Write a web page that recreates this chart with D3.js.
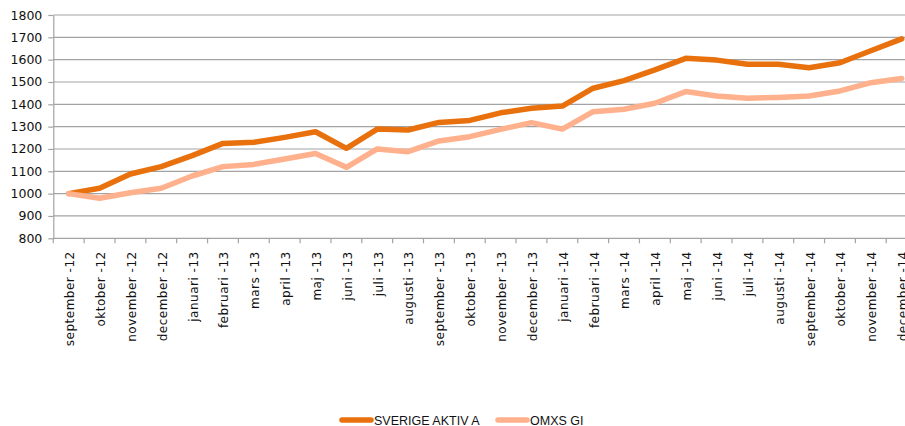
<!DOCTYPE html>
<html>
<head>
<meta charset="utf-8">
<script src="https://cdn.jsdelivr.net/npm/d3@7"></script>
<style>
  body { margin: 0; background: #fff; }
  svg { display: block; }
</style>
</head>
<body>
<div id="chart"></div>
<script>
// month labels as they appear under the axis
let months = ['september -12', 'oktober -12', 'november -12', 'december -12',
  'januari -13', 'februari -13', 'mars -13', 'april -13', 'maj -13', 'juni -13',
  'juli -13', 'augusti -13', 'september -13', 'oktober -13', 'november -13', 'december -13',
  'januari -14', 'februari -14', 'mars -14', 'april -14', 'maj -14', 'juni -14',
  'juli -14', 'augusti -14', 'september -14', 'oktober -14', 'november -14', 'december -14'];

let sverige = [1000, 1024, 1088, 1121, 1170, 1225, 1230, 1252, 1277, 1203, 1289, 1285, 1319, 1328,
  1362, 1382, 1392, 1472, 1506, 1554, 1606, 1598, 1579, 1579, 1564, 1586, 1640, 1693];
let omxs = [1000, 979, 1004, 1024, 1079, 1121, 1131, 1155, 1180, 1118, 1200, 1188, 1236, 1255,
  1288, 1318, 1289, 1367, 1378, 1405, 1457, 1437, 1427, 1431, 1437, 1460, 1497, 1516];

let yTicks = [800, 900, 1000, 1100, 1200, 1300, 1400, 1500, 1600, 1700, 1800];
let seriesNames = ['SVERIGE  AKTIV A', 'OMXS GI'];

'use strict';

let W = 905, H = 426;
let mLeft = 53.3, mTop = 15, mBottom = 238.3;
let step = 30.85;   //width of one month, the last one runs off the right edge
let colours = ['#e8710d', '#ffb08c'];
let gridcol = '#a3a3a3';
let textcol = '#111';

let svg = d3.select('#chart').append('svg').attr('width', W).attr('height', H);

let x = d3.scaleBand().domain(months).range([mLeft, mLeft + months.length * step]).padding(0);
let y = d3.scaleLinear().domain([800, 1800]).range([mBottom, mTop]);
let mRight = mLeft + months.length * step;

//gridlines
svg.append('g').selectAll('line').data(yTicks).join('line')
  .attr('x1', mLeft).attr('x2', mRight)
  .attr('y1', d => y(d)).attr('y2', d => y(d))
  .attr('stroke', gridcol).attr('stroke-width', 1.2);

//y axis
let yAxis = svg.append('g').attr('transform', `translate(${mLeft},0)`)
  .call(d3.axisLeft(y).tickValues(yTicks).tickFormat(d3.format('d'))
    .tickSize(5).tickPadding(6).tickSizeOuter(0));
yAxis.select('.domain').attr('stroke', gridcol).attr('stroke-width', 1.2);
yAxis.selectAll('.tick line').attr('stroke', gridcol).attr('stroke-width', 1.2);
yAxis.selectAll('.tick text').attr('fill', textcol)
  .style('font-family', 'DejaVu Sans').style('font-size', '12.5px');

//x axis ticks sit on the month boundaries
svg.append('g').selectAll('line').data(months).join('line')
  .attr('x1', d => x(d)).attr('x2', d => x(d))
  .attr('y1', mBottom).attr('y2', mBottom + 5)
  .attr('stroke', gridcol).attr('stroke-width', 1.2);

//month labels, turned on their side
svg.append('g').selectAll('text').data(months).join('text')
  .attr('transform', d => `translate(${x(d) + x.bandwidth() / 2},${mBottom + 13}) rotate(-90)`)
  .attr('dy', '0.45em')
  .attr('text-anchor', 'end')
  .attr('fill', textcol)
  .style('font-family', 'DejaVu Sans').style('font-size', '12px').style('letter-spacing', '0.5px')
  .text(d => d);

//the two lines
let line = d3.line()
  .x((d, i) => x(months[i]) + x.bandwidth() / 2)
  .y(d => y(d));

[sverige, omxs].forEach(function(s, k) {
  svg.append('path').datum(s)
    .attr('d', line)
    .attr('fill', 'none')
    .attr('stroke', colours[k])
    .attr('stroke-width', 5.5)
    .attr('stroke-linejoin', 'round')
    .attr('stroke-linecap', 'round');
});

//legend
let legx = [340, 496];
let legy = 420;
seriesNames.forEach(function(n, k) {
  svg.append('line')
    .attr('x1', legx[k] + 2).attr('x2', legx[k] + 31)
    .attr('y1', legy).attr('y2', legy)
    .attr('stroke', colours[k]).attr('stroke-width', 5.5).attr('stroke-linecap', 'round');
  svg.append('text')
    .attr('x', legx[k] + 34).attr('y', legy + 4.5)
    .attr('fill', textcol)
    .style('font-family', 'Liberation Sans').style('font-size', '12.5px')
    .text(n);
});
</script>
</body>
</html>
